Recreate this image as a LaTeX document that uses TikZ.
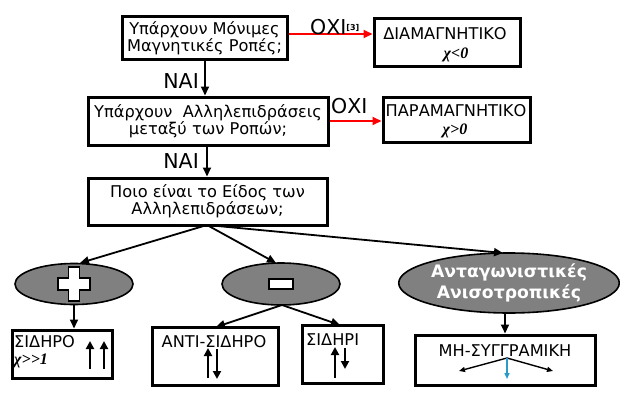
\documentclass[tikz,border=0pt]{standalone}
\usepackage{fontspec}
\setmainfont{DejaVu Sans}
\newfontfamily\chifont{Liberation Serif}
\usetikzlibrary{arrows.meta,shapes.geometric}
\definecolor{ovalgray}{RGB}{128,128,128}
\tikzset{
  box/.style={draw, line width=3pt, rectangle, inner sep=0pt, align=center, font=\fontsize{16.2}{15.5}\selectfont},
  oval/.style={draw, line width=1.6pt, ellipse, fill=ovalgray, inner sep=0pt},
  conn/.style={line width=1.8pt, -{Triangle[length=9pt,width=8pt]}},
  redconn/.style={line width=1.8pt, red, -{Triangle[length=9pt,width=8pt]}},
  lbl/.style={font=\fontsize{20.5}{20}\selectfont, inner sep=0pt},
  txt/.style={font=\fontsize{16.2}{16}\selectfont, inner sep=0pt},
  chi/.style={font=\chifont\itshape\bfseries\fontsize{16}{16}\selectfont, inner sep=0pt},
  spin/.style={line width=2.2pt, -{Triangle[length=8pt,width=8pt]}},
  thinspin/.style={line width=1.4pt, -{Triangle[length=6pt,width=5pt]}}
}
\begin{document}
\begin{tikzpicture}[x=1pt,y=-1pt]
\useasboundingbox[fill=white] (0,0) rectangle (620,404);
% boxes
\node[box, minimum width=165, minimum height=42] (b1) at (204.5,38) {Υπάρχουν Μόνιμες\\Μαγνητικές Ροπές;};
\node[box, minimum width=146, minimum height=48] (diam) at (447,42.5) {};
\node[box, minimum width=240, minimum height=48] (b2) at (208,121) {Υπάρχουν\ \ Αλληλεπιδράσεις\\μεταξύ των Ροπών;};
\node[box, minimum width=147, minimum height=45] (para) at (456.5,119.5) {};
\node[box, minimum width=239, minimum height=47] (b3) at (207.5,201.5) {Ποιο είναι το Είδος των\\Αλληλεπιδράσεων;};
% texts in right boxes
\node[txt, anchor=base] (dt) at (445,40) {ΔΙΑΜΑΓΝΗΤΙΚΟ};
\node[chi, anchor=base] (dc) at (456,58) {χ<0};
\node[txt, anchor=base] (pt) at (456,116) {ΠΑΡΑΜΑΓΝΗΤΙΚΟ};
\node[chi, anchor=base] (pc) at (455,134) {χ>0};
% ellipses
\node[oval, minimum width=118, minimum height=41] (e1) at (74,284) {};
\node[oval, minimum width=118, minimum height=42] (e2) at (281,284) {};
\node[oval, minimum width=218, minimum height=60, align=center, text=white,
      font=\bfseries\fontsize{17.2}{21}\selectfont] (e3) at (509,283) {Ανταγωνιστικές\\Ανισοτροπικές};
% plus and minus
\draw[line width=1.3pt, fill=white] (68.5,267) -- (79.5,267) -- (79.5,278) -- (90,278) -- (90,290) -- (79.5,290) -- (79.5,301) -- (68.5,301) -- (68.5,290) -- (58,290) -- (58,278) -- (68.5,278) -- cycle;
\draw[line width=1.6pt, fill=white] (269,279) rectangle (293,289);
% bottom boxes
\node[box, minimum width=100, minimum height=48] (s1) at (62,354) {};
\node[box, minimum width=126, minimum height=58] (s2) at (215,356) {};
\node[box, minimum width=81, minimum height=58] (s3) at (342.5,354) {};
\node[box, minimum width=180, minimum height=50] (s4) at (505,360) {};
\node[txt, anchor=base west] (t1) at (14,347) {ΣΙΔΗΡΟ};
\node[chi, anchor=base west] (c1) at (14,364) {χ>>1};
\node[txt, anchor=base] (t2) at (214,347) {ΑΝΤΙ-ΣΙΔΗΡΟ};
\node[txt, anchor=base west] (t3) at (306,345) {ΣΙΔΗΡΙ};
\node[txt, anchor=base] (t4) at (505,356) {ΜΗ-ΣΥΓΓΡΑΜΙΚΗ};
% spin arrows
\coordinate (u1a) at (90,369); \coordinate (u1b) at (90,341);
\coordinate (u2a) at (104,369); \coordinate (u2b) at (104,341);
\draw[spin] (u1a) -- (u1b);
\draw[spin] (u2a) -- (u2b);
\coordinate (a1a) at (208,378); \coordinate (a1b) at (208,348);
\coordinate (a2a) at (217,349); \coordinate (a2b) at (217,379);
\draw[spin] (a1a) -- (a1b);
\draw[spin] (a2a) -- (a2b);
\coordinate (i1a) at (335,378); \coordinate (i1b) at (335,347);
\coordinate (i2a) at (345,348); \coordinate (i2b) at (345,369);
\draw[spin] (i1a) -- (i1b);
\draw[spin] (i2a) -- (i2b);
\coordinate (m0) at (507,358);
\coordinate (ml) at (459,371);
\coordinate (mr) at (553,371);
\coordinate (md) at (507,379);
\draw[thinspin] (m0) -- (ml);
\draw[thinspin] (m0) -- (mr);
\draw[thinspin, cyan!60!teal] (m0) -- (md);
% connectors
\draw[conn] (b1.south -| 205,0) -- (b2.north -| 205,0);
\draw[conn] (b2.south -| 207,0) -- (b3.north -| 207,0);
\node[lbl, anchor=base east] (n1) at (199,88) {ΝΑΙ};
\node[lbl, anchor=base east] (n2) at (199,168) {ΝΑΙ};
\draw[redconn] (b1.east |- 0,34) -- (diam.west |- 0,34);
\draw[redconn] (b2.east |- 0,121) -- (para.west |- 0,121);
\node[lbl, anchor=base west] (o1) at (310,35) {ΟΧΙ\raisebox{5pt}{\bfseries\fontsize{8}{8}\selectfont[3]}};
\node[lbl, anchor=base west] (o2) at (331,113) {ΟΧΙ};
\coordinate (b3s) at (207,225);
\draw[conn] (b3s) -- (80,263);
\draw[conn] (b3s) -- (276,263);
\draw[conn] (b3s) -- (503,253);
\draw[conn] (e1.south) -- (s1.north -| e1.south);
\coordinate (e2s) at (282,305);
\draw[conn] (e2s) -- (216,327);
\draw[conn] (e2s) -- (340,325);
\draw[conn] (e3.south -| 505,0) -- (s4.north -| 505,0);
\end{tikzpicture}
\end{document}
